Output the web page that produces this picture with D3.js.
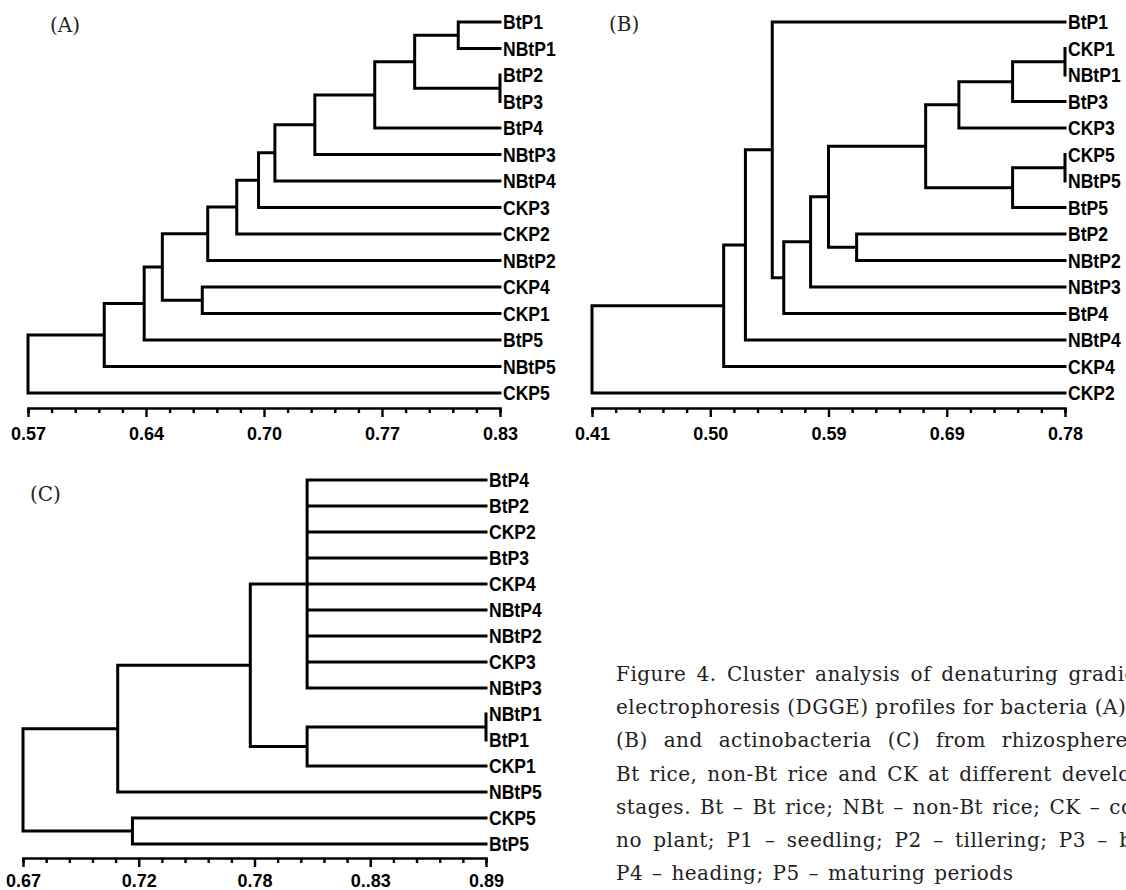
<!DOCTYPE html>
<html>
<head>
<meta charset="utf-8">
<script src="https://cdn.jsdelivr.net/npm/d3@7"></script>
<style>
  html, body { margin: 0; padding: 0; background: #fff; }
  svg { display: block; overflow: hidden; }
  .leaf { font-family: "Liberation Sans", Arial, sans-serif; font-weight: bold; font-size: 19.5px; }
  .tick text { font-family: "Liberation Sans", Arial, sans-serif; font-weight: bold; font-size: 18px; fill: #000; }
  .tag, .caption { font-family: "DejaVu Serif", serif; fill: #222; }
</style>
</head>
<body>
<svg id="fig" width="1126" height="890"></svg>
<script>
// --- data ---
// joins: members are leaf names or the index of an earlier join; sim = similarity at the join

// (A) bacteria
const leavesA = ["BtP1","NBtP1","BtP2","BtP3","BtP4","NBtP3","NBtP4","CKP3","CKP2","NBtP2","CKP4","CKP1","BtP5","NBtP5","CKP5"];
const joinsA = [["BtP1","NBtP1"],["BtP2","BtP3"],[0,1],[2,"BtP4"],[3,"NBtP3"],[4,"NBtP4"],[5,"CKP3"],[6,"CKP2"],[7,"NBtP2"],["CKP4","CKP1"],[8,9],[10,"BtP5"],[11,"NBtP5"],[12,"CKP5"]];
const simA = [0.807,0.830,0.783,0.761,0.728,0.706,0.697,0.685,0.669,0.666,0.644,0.634,0.612,0.570];
const ticksA = ["0.57","0.64","0.70","0.77","0.83"];

// (B) fungi
const leavesB = ["BtP1","CKP1","NBtP1","BtP3","CKP3","CKP5","NBtP5","BtP5","BtP2","NBtP2","NBtP3","BtP4","NBtP4","CKP4","CKP2"];
const joinsB = [["CKP1","NBtP1"],[0,"BtP3"],[1,"CKP3"],["CKP5","NBtP5"],[3,"BtP5"],[2,4],["BtP2","NBtP2"],[5,6],[7,"NBtP3"],[8,"BtP4"],["BtP1",9],[10,"NBtP4"],[11,"CKP4"],[12,"CKP2"]];
const simB = [0.780,0.739,0.697,0.780,0.739,0.671,0.617,0.595,0.581,0.560,0.551,0.530,0.513,0.410];
const ticksB = ["0.41","0.50","0.59","0.69","0.78"];

// (C) actinobacteria
const leavesC = ["BtP4","BtP2","CKP2","BtP3","CKP4","NBtP4","NBtP2","CKP3","NBtP3","NBtP1","BtP1","CKP1","NBtP5","CKP5","BtP5"];
const joinsC = [["BtP4","BtP2","CKP2","BtP3","CKP4","NBtP4","NBtP2","CKP3","NBtP3"],["NBtP1","BtP1"],[1,"CKP1"],[0,2],[3,"NBtP5"],["CKP5","BtP5"],[4,5]];
const simC = [0.805,0.890,0.805,0.778,0.715,0.722,0.670];
const ticksC = ["0.67","0.72","0.78","0..83","0.89"];

const captionLines = [
  "Figure 4. Cluster analysis of denaturing gradient gel",
  "electrophoresis (DGGE) profiles for bacteria (A), fungi",
  "(B) and actinobacteria (C) from rhizosphere soil of",
  "Bt rice, non-Bt rice and CK at different developmental",
  "stages. Bt \u2013 Bt rice; NBt \u2013 non-Bt rice; CK \u2013 control,",
  "no plant; P1 \u2013 seedling; P2 \u2013 tillering; P3 \u2013 booting;",
  "P4 \u2013 heading; P5 \u2013 maturing periods"
];
// justified block in the source: extra space between words, per line
const captionWordGap = [3.4, 0, 9, 3, 2.2, 4.5, 2];

const svg = d3.select("#fig");
svg.append("rect").attr("width", 1126).attr("height", 890).attr("fill", "#fff");

function buildTree(joins, sims) {
  const nodes = [];
  joins.forEach((members, i) => {
    nodes.push({
      sim: sims[i],
      children: members.map(m => typeof m === "number" ? nodes[m] : { name: m })
    });
  });
  return d3.hierarchy(nodes[nodes.length - 1]);
}

function drawPanel(opt) {
  const g = svg.append("g");
  const dom = [+opt.ticks[0], +opt.ticks[opt.ticks.length - 1]];
  const x = d3.scaleLinear().domain(dom).range([opt.x0, opt.x1]);
  const y = d3.scalePoint().domain(opt.leaves).range([opt.y0, opt.y1]);

  const root = buildTree(opt.joins, opt.sims);
  root.eachAfter(n => {
    if (!n.children) {
      n.py = y(n.data.name);
      n.px = x(dom[1]);
    } else {
      n.py = d3.mean(n.children, c => c.py);
      n.px = x(n.data.sim);
    }
  });

  const p = d3.path();
  root.each(n => {
    if (!n.children) return;
    const ys = n.children.map(c => c.py);
    p.moveTo(n.px, d3.min(ys));
    p.lineTo(n.px, d3.max(ys));
    n.children.forEach(c => {
      if (c.px > n.px) {
        p.moveTo(n.px, c.py);
        p.lineTo(c.px, c.py);
      }
    });
  });
  g.append("path").attr("d", p.toString())
    .attr("fill", "none").attr("stroke", "#000")
    .attr("stroke-width", 3).attr("stroke-linecap", "square");

  g.selectAll("text.leaf").data(root.leaves()).join("text")
    .attr("class", "leaf")
    .attr("transform", d => `translate(${d.px + 3},${d.py}) scale(0.9,1)`)
    .attr("dy", "0.36em")
    .text(d => d.data.name);

  // axis: 20 minor steps, a label every 5
  const tv = d3.range(21).map(i => dom[0] + i * (dom[1] - dom[0]) / 20);
  const ax = g.append("g").attr("transform", `translate(0,${opt.axisY})`)
    .call(d3.axisBottom(x).tickValues(tv).tickSizeOuter(0).tickSize(5)
      .tickFormat((d, i) => i % 5 === 0 ? opt.ticks[i / 5] : ""));
  ax.select(".domain").attr("stroke", "#000").attr("stroke-width", 2.6);
  ax.selectAll(".tick line").attr("stroke", "#000").attr("stroke-width", 2.4)
    .attr("y2", (d, i) => i % 5 === 0 ? 9 : 5);
  ax.selectAll(".tick text").attr("y", opt.labelY);

  svg.append("text").attr("class", "tag")
    .attr("x", opt.tagX).attr("y", opt.tagY)
    .attr("font-size", 20).text(opt.tag);
}

drawPanel({ leaves: leavesA, joins: joinsA, sims: simA, ticks: ticksA, tag: "(A)",
  x0: 28, x1: 500, y0: 22, y1: 393, axisY: 408, labelY: 19, tagX: 50, tagY: 32 });
drawPanel({ leaves: leavesB, joins: joinsB, sims: simB, ticks: ticksB, tag: "(B)",
  x0: 592, x1: 1065, y0: 22, y1: 393, axisY: 408, labelY: 19, tagX: 609, tagY: 31 });
drawPanel({ leaves: leavesC, joins: joinsC, sims: simC, ticks: ticksC, tag: "(C)",
  x0: 23, x1: 486, y0: 480, y1: 844, axisY: 858, labelY: 16, tagX: 30, tagY: 501 });

svg.append("g").selectAll("text").data(captionLines).join("text")
  .attr("class", "caption")
  .attr("x", 616)
  .attr("y", (d, i) => 681 + i * 33.2)
  .attr("font-size", 20)
  .attr("letter-spacing", "0.5px")
  .attr("word-spacing", (d, i) => captionWordGap[i] + "px")
  .text(d => d);
</script>
</body>
</html>
